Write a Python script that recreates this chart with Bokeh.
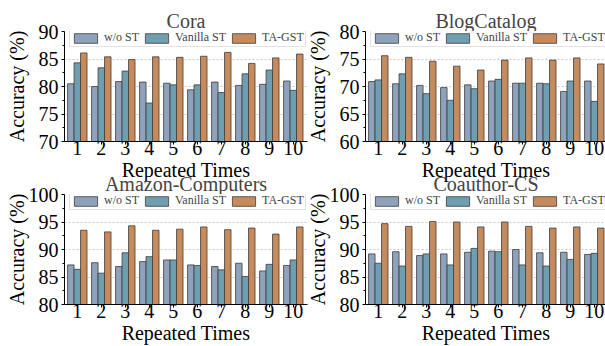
from bokeh.plotting import figure
from bokeh.layouts import column, row
from bokeh.models import ColumnDataSource, FixedTicker, Range1d, Legend, LegendItem
from bokeh.transform import dodge
from bokeh.embed import file_html
from bokeh.resources import INLINE

runs = [1, 2, 3, 4, 5, 6, 7, 8, 9, 10]
series_names = ["w/o ST", "Vanilla ST", "TA-GST"]
series_colors = ["#8FA2BB", "#6F9EB0", "#C78A5C"]

datasets = ["Cora", "BlogCatalog", "Amazon-Computers", "Coauthor-CS"]
x_label = "Repeated Times"
y_label = "Accuracy (%)"
y_limits = [(70, 90), (60, 80), (80, 100), (80, 100)]
y_ticks = [[70, 75, 80, 85, 90], [60, 65, 70, 75, 80], [80, 85, 90, 95, 100], [80, 85, 90, 95, 100]]

cora_wo = [80.5, 80.0, 80.9, 80.8, 80.6, 79.4, 80.8, 80.2, 80.4, 81.0]
cora_vanilla = [84.3, 83.4, 82.8, 77.0, 80.3, 80.3, 78.9, 82.3, 83.0, 79.3]
cora_tagst = [86.1, 85.4, 84.9, 85.4, 85.3, 85.5, 86.2, 84.2, 85.2, 85.9]

blog_wo = [70.9, 70.5, 70.2, 69.8, 70.3, 71.0, 70.6, 70.6, 69.1, 71.0]
blog_vanilla = [71.2, 72.3, 68.7, 67.5, 69.6, 71.3, 70.6, 70.5, 71.0, 67.3]
blog_tagst = [75.6, 75.3, 74.6, 73.7, 73.0, 74.8, 75.2, 74.8, 75.2, 74.1]

amazon_wo = [87.2, 87.6, 86.9, 87.8, 88.1, 87.2, 86.9, 87.5, 86.1, 87.1]
amazon_vanilla = [86.4, 85.7, 89.4, 88.7, 88.1, 87.1, 86.3, 85.1, 87.3, 88.1]
amazon_tagst = [93.5, 93.2, 94.3, 93.5, 93.7, 94.1, 93.6, 93.9, 92.8, 94.1]

coauthor_wo = [89.2, 89.6, 88.9, 89.2, 89.5, 89.7, 90.0, 89.4, 89.5, 89.1]
coauthor_vanilla = [87.5, 87.0, 89.2, 87.2, 90.2, 89.6, 87.2, 87.0, 88.2, 89.3]
coauthor_tagst = [94.7, 94.2, 95.1, 95.0, 94.1, 95.0, 94.2, 93.9, 94.1, 93.9]

all_series = [
    (cora_wo, cora_vanilla, cora_tagst),
    (blog_wo, blog_vanilla, blog_tagst),
    (amazon_wo, amazon_vanilla, amazon_tagst),
    (coauthor_wo, coauthor_vanilla, coauthor_tagst),
]

FONT = "Liberation Serif"
SLOT = 24.0   # px per category
FH = 110      # frame height


def make_fig(idx, is_left, is_top):
    name = datasets[idx]
    lo, hi = y_limits[idx]
    wo, va, ta = all_series[idx]
    fw = 243 if is_left else 241
    x0 = 0.467
    p = figure(
        frame_width=fw, frame_height=FH,
        x_range=Range1d(x0, x0 + fw / SLOT), y_range=Range1d(lo, hi),
        output_backend="svg", toolbar_location=None,
        min_border_left=(64 if is_left else 56), min_border_right=(1 if is_left else 0),
        min_border_top=(31 if is_top else 21), min_border_bottom=0,
        margin=(0, 0, 0, 0 if is_left else -5),
    )
    p.border_fill_alpha = 0
    src = ColumnDataSource(dict(run=runs, wo=wo, va=va, ta=ta))
    offsets = [-0.27, 0.0, 0.27]
    cols = ["wo", "va", "ta"]
    rends = []
    for off, c, col in zip(offsets, series_colors, cols):
        r = p.vbar(x=dodge("run", off), top=col, bottom=lo, width=0.27, source=src,
                   fill_color=c, line_color="#3c3c3c", line_width=0.8)
        rends.append(r)

    p.title.text = name
    p.title.align = "center"
    p.title.text_font = FONT
    p.title.text_font_size = "20px"
    p.title.text_font_style = "normal"
    p.title.standoff = 0

    p.outline_line_color = None
    p.xgrid.visible = False
    p.ygrid.grid_line_color = "#c8c8c8"
    p.ygrid.grid_line_dash = "2 2"

    p.xaxis.ticker = FixedTicker(ticks=runs)
    ticks = y_ticks[idx]
    minors = [(a + b) / 2 for a, b in zip(ticks[:-1], ticks[1:])]
    p.yaxis.ticker = FixedTicker(ticks=ticks, minor_ticks=minors)

    p.xaxis.axis_label = x_label
    p.yaxis.axis_label = y_label
    for ax in (p.xaxis[0], p.yaxis[0]):
        ax.axis_label_text_font = FONT
        ax.axis_label_text_font_size = "20px"
        ax.axis_label_text_font_style = "normal"
        ax.axis_label_text_color = "black"
        ax.major_label_text_font = FONT
        ax.major_label_text_font_size = "20px"
        ax.major_label_text_color = "black"
        ax.axis_line_color = "black"
        ax.axis_line_width = 1
        ax.major_tick_line_color = "black"
        ax.minor_tick_line_color = "black"
        ax.major_tick_in = 0
        ax.major_tick_out = 3
        ax.minor_tick_in = 0
        ax.minor_tick_out = 2
    p.xaxis.major_label_standoff = -4
    p.xaxis.axis_label_standoff = 1
    p.yaxis.major_label_standoff = 3
    p.yaxis.axis_label_standoff = (8 if hi < 100 else -2)

    items = [LegendItem(label=n, renderers=[r]) for n, r in zip(series_names, rends)]
    leg = Legend(items=items, orientation="horizontal", location=(5, 94),
                 glyph_width=29, glyph_height=12, label_height=12,
                 label_text_font=FONT, label_text_font_size="12px",
                 label_standoff=4, spacing=3, padding=1, margin=0,
                 border_line_color="#c8c8c8", border_line_width=1,
                 background_fill_alpha=0.9)
    p.add_layout(leg)
    return p


p1 = make_fig(0, True, True)
p2 = make_fig(1, False, True)
p3 = make_fig(2, True, False)
p4 = make_fig(3, False, False)

top_row = row(p1, p2)
bottom_row = row(p3, p4, margin=(-13, 0, 0, 0))
layout = column(top_row, bottom_row)

with open("out.html", "w") as f:
    f.write(file_html(layout, INLINE))
